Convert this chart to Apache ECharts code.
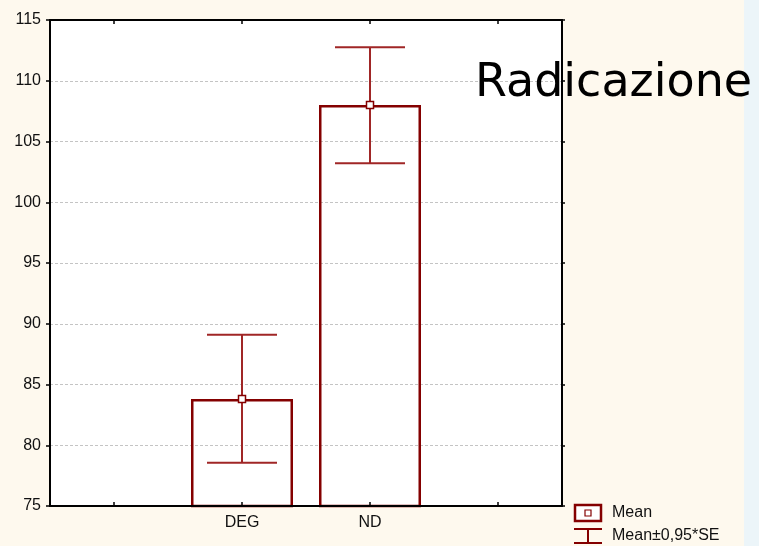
<!DOCTYPE html>
<html>
<head>
<meta charset="utf-8">
<script src="https://cdn.jsdelivr.net/npm/echarts@6/dist/echarts.min.js"></script>
<style>
  html, body { margin: 0; padding: 0; background: #fef9ee; }
  #chart { width: 759px; height: 546px; }
</style>
</head>
<body>
<div id="chart"></div>
<script>
// Categories on the x axis (outer slots are empty padding slots)
const categories = ['', 'DEG', 'ND', ''];
// Group means
const means = [null, 83.8, 108.0, null];
// Lower / upper whisker ends (Mean ± 0.95*SE)
const lowerBounds = [null, 78.55, 103.2, null];
const upperBounds = [null, 89.1, 112.75, null];
// Y tick range
const yMin = 75, yMax = 115, yStep = 5;

const barColor = '#840000';
const whiskerColor = '#a02626';

const errorData = [];
categories.forEach(function (c, i) {
  if (means[i] != null) errorData.push([i, lowerBounds[i], upperBounds[i], means[i]]);
});

const chart = echarts.init(document.getElementById('chart'), null, { renderer: 'canvas' });

const xTick = { show: true, interval: 0, alignWithLabel: true, inside: true, length: 4, lineStyle: { color: '#000', width: 1.5 } };

chart.setOption({
  backgroundColor: '#fef9ee',
  animation: false,
  grid: { left: 50, top: 20, right: 197, bottom: 40, show: true, backgroundColor: '#ffffff', borderWidth: 0 },
  xAxis: [
    {
      type: 'category', data: categories, position: 'bottom', z: 5,
      axisLine: { lineStyle: { color: '#000', width: 2 } },
      axisTick: xTick,
      axisLabel: { interval: 0, color: '#111', fontFamily: 'Liberation Sans', fontSize: 16, margin: 9 },
      splitLine: { show: false }
    },
    {
      type: 'category', data: categories, position: 'top', z: 5,
      axisLine: { lineStyle: { color: '#000', width: 2 } },
      axisTick: xTick,
      axisLabel: { show: false }
    }
  ],
  yAxis: [
    {
      type: 'value', min: yMin, max: yMax, interval: yStep, position: 'left',
      axisLine: { show: true, lineStyle: { color: '#000', width: 2 } },
      axisTick: { show: true, length: 4, lineStyle: { color: '#000', width: 1.5 } },
      axisLabel: { color: '#111', fontFamily: 'Liberation Sans', fontSize: 16, margin: 9 },
      splitLine: { show: true, lineStyle: { color: '#c4c4c4', type: [3, 2], width: 1 } }
    },
    {
      type: 'value', min: yMin, max: yMax, interval: yStep, position: 'right',
      axisLine: { show: true, lineStyle: { color: '#000', width: 2 } },
      axisTick: { show: true, length: 3, lineStyle: { color: '#000', width: 1.5 } },
      axisLabel: { show: false },
      splitLine: { show: false }
    }
  ],
  series: [
    {
      type: 'bar', data: means, barWidth: 102, z: 2,
      itemStyle: { color: 'rgba(255,255,255,0)', borderColor: barColor, borderWidth: 2.5 }
    },
    {
      type: 'custom', data: errorData, z: 3,
      renderItem: function (params, api) {
        const x = api.value(0);
        const lo = api.coord([x, api.value(1)]);
        const hi = api.coord([x, api.value(2)]);
        const mid = api.coord([x, api.value(3)]);
        const half = 35;
        const s = 3.5;
        const line = { stroke: whiskerColor, lineWidth: 2 };
        return {
          type: 'group',
          children: [
            { type: 'line', shape: { x1: hi[0], y1: hi[1], x2: lo[0], y2: lo[1] }, style: line },
            { type: 'line', shape: { x1: hi[0] - half, y1: hi[1], x2: hi[0] + half, y2: hi[1] }, style: line },
            { type: 'line', shape: { x1: lo[0] - half, y1: lo[1], x2: lo[0] + half, y2: lo[1] }, style: line },
            { type: 'rect', shape: { x: mid[0] - s, y: mid[1] - s, width: 2 * s, height: 2 * s },
              style: { fill: '#fff', stroke: barColor, lineWidth: 1.5 } }
          ]
        };
      }
    }
  ],
  graphic: [
    { type: 'rect', left: 744, top: 0, shape: { width: 15, height: 546 }, style: { fill: '#ecf5f9' }, z: -10 },
    { type: 'text', x: 475, y: 84, z: 10,
      style: { text: 'Radicazione', font: '46px "DejaVu Sans"', fill: '#000', textVerticalAlign: 'middle' } },
    // Legend: mean marker
    { type: 'rect', shape: { x: 575, y: 505, width: 26, height: 16 }, style: { fill: '#fff', stroke: barColor, lineWidth: 2.5 } },
    { type: 'rect', shape: { x: 585, y: 510, width: 6, height: 6 }, style: { fill: '#fff', stroke: barColor, lineWidth: 1.2 } },
    { type: 'text', x: 612, y: 513, style: { text: 'Mean', font: '16px "Liberation Sans"', fill: '#111', textVerticalAlign: 'middle' } },
    // Legend: whisker marker
    { type: 'line', shape: { x1: 574, y1: 529, x2: 602, y2: 529 }, style: { stroke: barColor, lineWidth: 2 } },
    { type: 'line', shape: { x1: 588, y1: 529, x2: 588, y2: 543 }, style: { stroke: barColor, lineWidth: 2 } },
    { type: 'line', shape: { x1: 574, y1: 543, x2: 602, y2: 543 }, style: { stroke: barColor, lineWidth: 2 } },
    { type: 'text', x: 612, y: 536, style: { text: 'Mean\u00b10,95*SE', font: '16px "Liberation Sans"', fill: '#111', textVerticalAlign: 'middle' } }
  ]
});
</script>
</body>
</html>
